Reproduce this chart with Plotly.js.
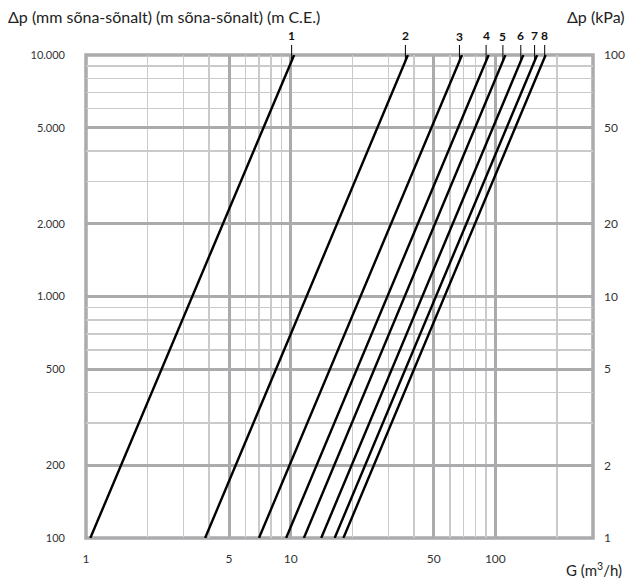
<!DOCTYPE html>
<html>
<head>
<meta charset="utf-8">
<script src="https://cdn.plot.ly/plotly-3.0.1.min.js"></script>
<style>html,body{margin:0;padding:0;background:#fff;}#chart{width:630px;height:583px;}</style>
</head>
<body>
<div id="chart"></div>
<script>
// Valve curves: flow G (m3/h) at Δp = 100 and Δp = 10.000 mm w.c.
const curveNames = ['1','2','3','4','5','6','7','8'];
const dpEnds = [100, 10000];
const gAtLow = [1.05, 3.82, 7.0, 9.5, 11.6, 14.1, 16.4, 18.1];
const gAtHigh = [10.4, 37.4, 68.7, 92.7, 112, 137, 160, 176];

// Axis ticks
const xMajorTicks = [1, 5, 10, 50, 100];
const xMajorLabels = ['1', '5', '10', '50', '100'];
const xMinorTicks = [2, 3, 4, 6, 7, 8, 9, 20, 30, 40, 60, 70, 80, 90, 200];
const yMajorTicks = [100, 200, 500, 1000, 2000, 5000, 10000];
const yMajorLabels = ['100', '200', '500', '1.000', '2.000', '5.000', '10.000'];
const yMinorTicks = [300, 400, 600, 700, 800, 900, 3000, 4000, 6000, 7000, 8000, 9000];
const kpaTicks = [1, 2, 5, 10, 20, 50, 100];
const kpaLabels = ['1', '2', '5', '10', '20', '50', '100'];

const FONT = 'Lato, "Open Sans", sans-serif';
const majorGrid = '#ababad';
const minorGrid = '#cacacc';

const PLOT_H = 583 - 55 - 45;

const traces = curveNames.map((n, i) => ({
  type: 'scatter', mode: 'lines',
  x: [gAtLow[i], gAtHigh[i]], y: dpEnds,
  line: {color: '#000', width: 2.4},
  showlegend: false, hoverinfo: 'skip', cliponaxis: false
}));
traces.push({type: 'scatter', mode: 'lines', x: [1, 1], y: [1, 1], yaxis: 'y2',
  line: {width: 0, color: 'rgba(0,0,0,0)'}, showlegend: false, hoverinfo: 'skip'});

// curve labels with vertical leaders
const annotations = curveNames.map((n, i) => {
  const gx = gAtHigh[i] * (i === 7 ? 0.99 : 0.972);
  const dp = dpEnds[0] * Math.pow(gx / gAtLow[i], Math.log(dpEnds[1] / dpEnds[0]) / Math.log(gAtHigh[i] / gAtLow[i]));
  const below = PLOT_H / 2 * Math.log10(dpEnds[1] / dp);
  return {
    x: Math.log10(gx), y: Math.log10(dp), xref: 'x', yref: 'y',
    text: '<b>' + n + '</b>', showarrow: true, arrowhead: 0, arrowwidth: 1,
    arrowcolor: '#000', ax: 0, ay: -(19 + below), standoff: 0,
    font: {family: FONT, size: 12, color: '#111'}
  };
});
annotations.push(
  {x: 0, y: 1, xref: 'paper', yref: 'paper', xanchor: 'left', yanchor: 'bottom',
   xshift: -80, yshift: 27, showarrow: false,
   text: 'Δp (mm sõna-sõnalt) (m sõna-sõnalt) (m C.E.)',
   font: {family: FONT, size: 16, color: '#222'}},
  {x: 1, y: 1, xref: 'paper', yref: 'paper', xanchor: 'right', yanchor: 'bottom',
   xshift: 34, yshift: 27, showarrow: false, text: 'Δp (kPa)',
   font: {family: FONT, size: 16, color: '#222'}},
  {x: 1, y: 0, xref: 'paper', yref: 'paper', xanchor: 'right', yanchor: 'bottom',
   xshift: 31, yshift: -43, showarrow: false, text: 'G (m<sup>3</sup>/h)',
   font: {family: FONT, size: 15, color: '#222'}}
);

const layout = {
  width: 630, height: 583,
  margin: {l: 86, r: 37, t: 55, b: 45},
  paper_bgcolor: '#fff', plot_bgcolor: '#fff',
  font: {family: FONT, size: 11, color: '#333'},
  showlegend: false,
  xaxis: {
    type: 'log', range: [0, Math.log10(300)],
    tickmode: 'array', tickvals: xMajorTicks, ticktext: xMajorLabels,
    showgrid: true, gridcolor: majorGrid, gridwidth: 3,
    ticks: '', ticklabelstandoff: 12, zeroline: false, showline: false,
    minor: {tickmode: 'array', tickvals: xMinorTicks, showgrid: true, gridcolor: minorGrid, gridwidth: 1.5, ticks: ''},
    tickfont: {family: FONT, size: 12, color: '#333'}
  },
  yaxis: {
    type: 'log', range: [2, 4],
    tickmode: 'array', tickvals: yMajorTicks, ticktext: yMajorLabels,
    showgrid: true, gridcolor: majorGrid, gridwidth: 3,
    ticks: '', ticklabelstandoff: 20, zeroline: false, showline: false,
    minor: {tickmode: 'array', tickvals: yMinorTicks, showgrid: true, gridcolor: minorGrid, gridwidth: 1.5, ticks: ''},
    tickfont: {family: FONT, size: 11, color: '#333'}
  },
  yaxis2: {
    type: 'log', range: [0, 2], overlaying: 'y', side: 'right',
    tickmode: 'array', tickvals: kpaTicks, ticktext: kpaLabels,
    showgrid: false, ticks: '', ticklabelstandoff: 10, zeroline: false, showline: false,
    tickfont: {family: FONT, size: 12, color: '#333'}
  },
  shapes: [{type: 'rect', xref: 'paper', yref: 'paper', x0: 0, x1: 1, y0: 0, y1: 1,
    line: {color: majorGrid, width: 3.5}, layer: 'below'}],
  annotations: annotations
};

Plotly.newPlot('chart', traces, layout, {staticPlot: true, displayModeBar: false});
</script>
</body>
</html>
